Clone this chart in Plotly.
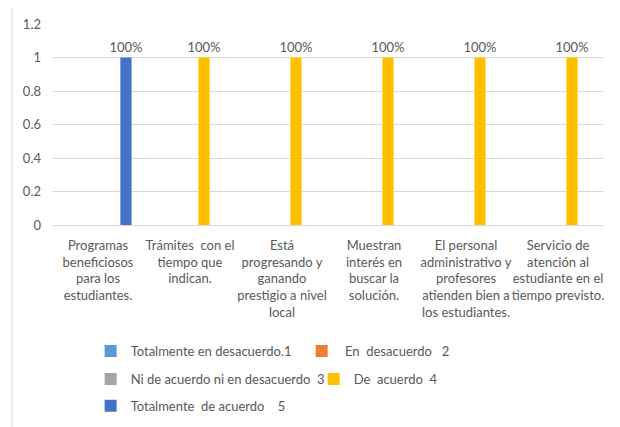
"""Grouped bar chart: nivel de acuerdo por aspecto evaluado."""
import plotly.graph_objects as go

categorias = [
    "Programas<br>beneficiosos<br>para los<br>estudiantes.",
    "Trámites\u00a0\u00a0con el<br>tiempo que<br>indican.",
    "Está<br>progresando y<br>ganando<br>prestigio a nivel<br>local",
    "Muestran<br>interés en<br>buscar la<br>solución.",
    "El personal<br>administrativo y<br>profesores<br>atienden bien a<br>los estudiantes.",
    "Servicio de<br>atención al<br>estudiante en el<br>tiempo previsto.",
]

series_nombres = [
    "Totalmente en desacuerdo.1",
    "\u00a0En\u00a0\u00a0desacuerdo\u00a0\u00a0\u00a02",
    "Ni de acuerdo ni en desacuerdo\u00a0\u00a03",
    "De\u00a0\u00a0acuerdo\u00a0\u00a04",
    "Totalmente\u00a0\u00a0de acuerdo\u00a0\u00a0\u00a0\u00a05",
]

totalmente_desacuerdo = [None, None, None, None, None, None]
en_desacuerdo = [None, None, None, None, None, None]
ni_acuerdo = [None, None, None, None, None, None]
de_acuerdo = [None, 1, 1, 1, 1, 1]
totalmente_acuerdo = [1, None, None, None, None, None]

colores = ["#5B9BD5", "#ED7D31", "#A5A5A5", "#FFC000", "#4472C4"]
leyendas = ["legend", "legend", "legend2", "legend2", "legend3"]

FONT = "Lato"
GRIS = "#595959"

fig = go.Figure()
valores = [totalmente_desacuerdo, en_desacuerdo, ni_acuerdo, de_acuerdo, totalmente_acuerdo]
for nombre, vals, color, leg in zip(series_nombres, valores, colores, leyendas):
    fig.add_trace(go.Bar(
        x=categorias, y=vals, name=nombre, marker_color=color,
        marker_line_width=0, legend=leg,
        texttemplate="%{y:.0%}", textposition="outside", cliponaxis=False,
        constraintext="none",
        textfont=dict(family=FONT, size=13, color=GRIS),
    ))

# marco exterior del gráfico
fig.add_shape(type="rect", xref="paper", yref="paper",
              x0=-0.0725, x1=1.03, y0=-1.05, y1=1.0896,
              line=dict(color="#D9D9D9", width=1))

leg_base = dict(orientation="h", xanchor="left", yanchor="middle",
                bgcolor="rgba(0,0,0,0)", font=dict(family=FONT, size=13, color=GRIS),
                itemwidth=30, tracegroupgap=0)

# la página tiene un margen de 8 px en el body: figura algo más pequeña
fig.update_layout(
    width=612, height=419,
    margin=dict(l=44, r=16, t=16, b=202, autoexpand=False),
    paper_bgcolor="white", plot_bgcolor="white",
    barmode="group", bargap=0.24, bargroupgap=0.2,
    font=dict(family=FONT, size=13, color=GRIS),
    showlegend=True,
    legend=dict(leg_base, x=0.07, y=-0.627, entrywidth=166),
    legend2=dict(leg_base, x=0.07, y=-0.766, entrywidth=178),
    legend3=dict(leg_base, x=0.07, y=-0.9),
    xaxis=dict(showgrid=False, showline=True, linecolor="#D9D9D9", linewidth=1,
               ticks="", tickangle=0, ticklabelstandoff=8,
               tickfont=dict(family=FONT, size=13, color=GRIS)),
    yaxis=dict(range=[0, 1.2], dtick=0.2, showgrid=True, gridcolor="#D9D9D9",
               zeroline=False, showline=False, ticklabelstandoff=10,
               tickfont=dict(family=FONT, size=13, color=GRIS)),
)

fig.write_html("out.html")
